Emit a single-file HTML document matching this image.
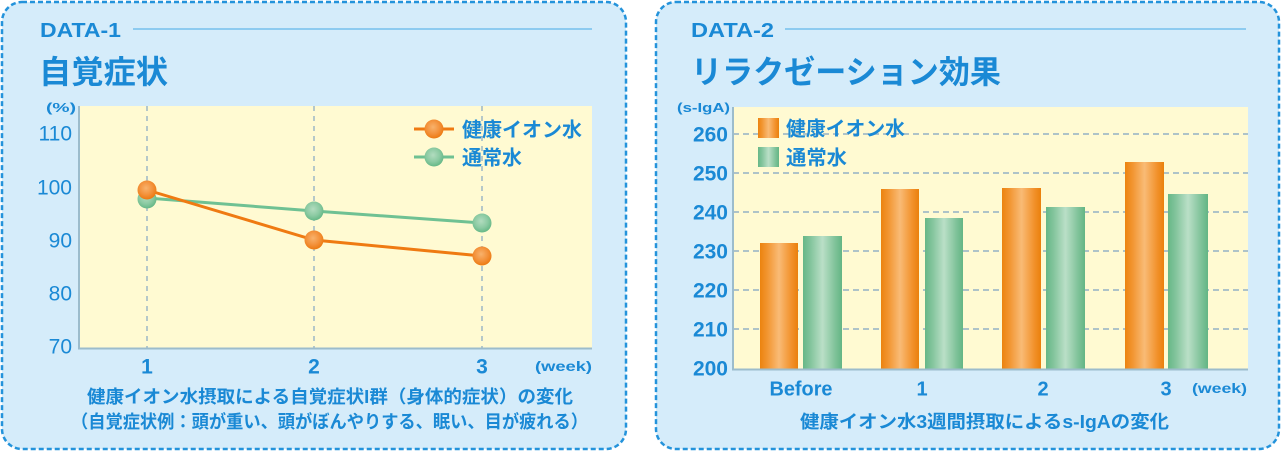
<!DOCTYPE html>
<html><head><meta charset="utf-8"><style>
html,body{margin:0;padding:0;background:#fff;}
svg{display:block;}
text{font-family:"Liberation Sans","Noto Sans CJK JP",sans-serif;fill:#1a89d5;}
.b{font-weight:bold;}
</style></head><body>
<svg width="1282" height="453" viewBox="0 0 1282 453" xmlns="http://www.w3.org/2000/svg">
<defs>
<linearGradient id="ob" x1="0" y1="0" x2="1" y2="0">
<stop offset="0" stop-color="#ec830f"/><stop offset="0.2" stop-color="#f29632"/>
<stop offset="0.5" stop-color="#f9bb76"/><stop offset="0.82" stop-color="#f2922c"/>
<stop offset="1" stop-color="#ea800c"/></linearGradient>
<linearGradient id="gb" x1="0" y1="0" x2="1" y2="0">
<stop offset="0" stop-color="#66b787"/><stop offset="0.2" stop-color="#84c59d"/>
<stop offset="0.5" stop-color="#badfc7"/><stop offset="0.82" stop-color="#80c39a"/>
<stop offset="1" stop-color="#63b584"/></linearGradient>
<radialGradient id="om" cx="0.45" cy="0.4" r="0.6">
<stop offset="0" stop-color="#f8b26c"/><stop offset="0.6" stop-color="#f3913a"/><stop offset="1" stop-color="#ec7a12"/></radialGradient>
<radialGradient id="gm" cx="0.45" cy="0.4" r="0.6">
<stop offset="0" stop-color="#b2dcbf"/><stop offset="0.6" stop-color="#8bcaa2"/><stop offset="1" stop-color="#66b887"/></radialGradient>
</defs>

<!-- Panels -->
<rect x="2" y="2" width="624" height="447" rx="20" ry="20" fill="#d5ecfa" stroke="#2493db" stroke-width="2.5" stroke-dasharray="5 3"/>
<rect x="656" y="2" width="623" height="447" rx="20" ry="20" fill="#d5ecfa" stroke="#2493db" stroke-width="2.5" stroke-dasharray="5 3"/>

<!-- LEFT PANEL -->
<text x="40" y="37" class="b" font-size="20" textLength="81" lengthAdjust="spacingAndGlyphs">DATA-1</text>
<line x1="133" y1="29" x2="592" y2="29" stroke="#8dcbf0" stroke-width="2"/>
<text x="39" y="83" class="b" font-size="32" textLength="129" lengthAdjust="spacingAndGlyphs">自覚症状</text>

<rect x="79" y="106" width="513" height="242" fill="#fffad2"/>
<g stroke="#a3bcc7" stroke-width="1.6" stroke-dasharray="5 5">
<line x1="147" y1="106" x2="147" y2="348"/>
<line x1="314" y1="106" x2="314" y2="348"/>
<line x1="482" y1="106" x2="482" y2="348"/>
</g>
<line x1="79" y1="106" x2="79" y2="349" stroke="#9cbccc" stroke-width="2"/>
<line x1="78" y1="348.5" x2="592" y2="348.5" stroke="#9cbccc" stroke-width="2"/>

<text x="46" y="112" class="b" font-size="13" textLength="30" lengthAdjust="spacingAndGlyphs">(%)</text>
<g font-size="21" text-anchor="end">
<text x="72" y="140.5">110</text>
<text x="72" y="194.5">100</text>
<text x="72" y="247.5">90</text>
<text x="72" y="300.5">80</text>
<text x="72" y="353.5">70</text>
</g>
<g font-size="21" text-anchor="middle" class="b">
<text x="147" y="373.5">1</text>
<text x="314" y="373.5">2</text>
<text x="482" y="373.5">3</text>
</g>
<text x="535" y="371" class="b" font-size="14" textLength="57" lengthAdjust="spacingAndGlyphs">(week)</text>

<!-- lines -->
<polyline points="147,198 314,211 482,223" fill="none" stroke="#6fc193" stroke-width="3"/>
<polyline points="147,190 314,240 482,256" fill="none" stroke="#ef7a12" stroke-width="3"/>
<circle cx="147" cy="199" r="9.5" fill="url(#gm)"/>
<circle cx="314" cy="211" r="9.5" fill="url(#gm)"/>
<circle cx="482" cy="223" r="9.5" fill="url(#gm)"/>
<circle cx="147" cy="190" r="9.5" fill="url(#om)"/>
<circle cx="314" cy="240" r="9.5" fill="url(#om)"/>
<circle cx="482" cy="256" r="9.5" fill="url(#om)"/>

<!-- legend left -->
<line x1="414" y1="129" x2="454" y2="129" stroke="#ef7a12" stroke-width="3"/>
<circle cx="434" cy="129" r="9.5" fill="url(#om)"/>
<line x1="414" y1="157" x2="454" y2="157" stroke="#6fc193" stroke-width="3"/>
<circle cx="434" cy="157" r="9.5" fill="url(#gm)"/>
<text x="462" y="136.5" class="b" font-size="20" textLength="120" lengthAdjust="spacingAndGlyphs">健康イオン水</text>
<text x="462" y="164.5" class="b" font-size="20" textLength="60" lengthAdjust="spacingAndGlyphs">通常水</text>

<text x="87" y="403" class="b" font-size="18" textLength="486" lengthAdjust="spacingAndGlyphs">健康イオン水摂取による自覚症状I群（身体的症状）の変化</text>
<text x="71" y="428" class="b" font-size="18" textLength="517" lengthAdjust="spacingAndGlyphs">（自覚症状例：頭が重い、頭がぼんやりする、眠い、目が疲れる）</text>

<!-- RIGHT PANEL -->
<text x="691" y="37" class="b" font-size="20" textLength="83" lengthAdjust="spacingAndGlyphs">DATA-2</text>
<line x1="785" y1="29" x2="1246" y2="29" stroke="#8dcbf0" stroke-width="2"/>
<text x="691" y="83" class="b" font-size="32" textLength="310" lengthAdjust="spacingAndGlyphs">リラクゼーション効果</text>

<rect x="733" y="107" width="515" height="262" fill="#fffad2"/>
<g stroke="#aec3c8" stroke-width="2" stroke-dasharray="6 4">
<line x1="733" y1="134" x2="1248" y2="134"/>
<line x1="733" y1="173" x2="1248" y2="173"/>
<line x1="733" y1="212" x2="1248" y2="212"/>
<line x1="733" y1="251" x2="1248" y2="251"/>
<line x1="733" y1="290" x2="1248" y2="290"/>
<line x1="733" y1="329" x2="1248" y2="329"/>
</g>

<text x="677" y="112" class="b" font-size="13" textLength="53" lengthAdjust="spacingAndGlyphs">(s-IgA)</text>
<g font-size="21" text-anchor="end" class="b">
<text x="728" y="141.5">260</text>
<text x="728" y="180.5">250</text>
<text x="728" y="219.5">240</text>
<text x="728" y="258.5">230</text>
<text x="728" y="297.5">220</text>
<text x="728" y="336.5">210</text>
<text x="728" y="375.5">200</text>
</g>

<!-- bars -->
<rect x="760" y="243" width="38" height="126" fill="url(#ob)"/>
<rect x="803" y="236" width="39" height="133" fill="url(#gb)"/>
<rect x="881" y="189" width="38" height="180" fill="url(#ob)"/>
<rect x="925" y="218" width="38" height="151" fill="url(#gb)"/>
<rect x="1002" y="188" width="39" height="181" fill="url(#ob)"/>
<rect x="1046" y="207" width="39" height="162" fill="url(#gb)"/>
<rect x="1125" y="162" width="39" height="207" fill="url(#ob)"/>
<rect x="1168" y="194" width="40" height="175" fill="url(#gb)"/>

<line x1="733" y1="107" x2="733" y2="370" stroke="#9cbccc" stroke-width="2"/>
<line x1="732" y1="369.5" x2="1248" y2="369.5" stroke="#9cbccc" stroke-width="2"/>

<!-- legend right -->
<rect x="758" y="118" width="21" height="20" fill="url(#ob)"/>
<rect x="758" y="147" width="21" height="20" fill="url(#gb)"/>
<text x="786" y="135.5" class="b" font-size="20" textLength="119" lengthAdjust="spacingAndGlyphs">健康イオン水</text>
<text x="786" y="164.5" class="b" font-size="20" textLength="61" lengthAdjust="spacingAndGlyphs">通常水</text>

<g font-size="20" text-anchor="middle" class="b">
<text x="801" y="395.5" textLength="63" lengthAdjust="spacingAndGlyphs">Before</text>
<text x="922" y="395.5">1</text>
<text x="1043" y="395.5">2</text>
<text x="1166" y="395.5">3</text>
</g>
<text x="1192" y="393" class="b" font-size="14" textLength="55" lengthAdjust="spacingAndGlyphs">(week)</text>

<text x="800" y="428" class="b" font-size="18" textLength="369" lengthAdjust="spacingAndGlyphs">健康イオン水3週間摂取によるs-IgAの変化</text>
</svg>
</body></html>
